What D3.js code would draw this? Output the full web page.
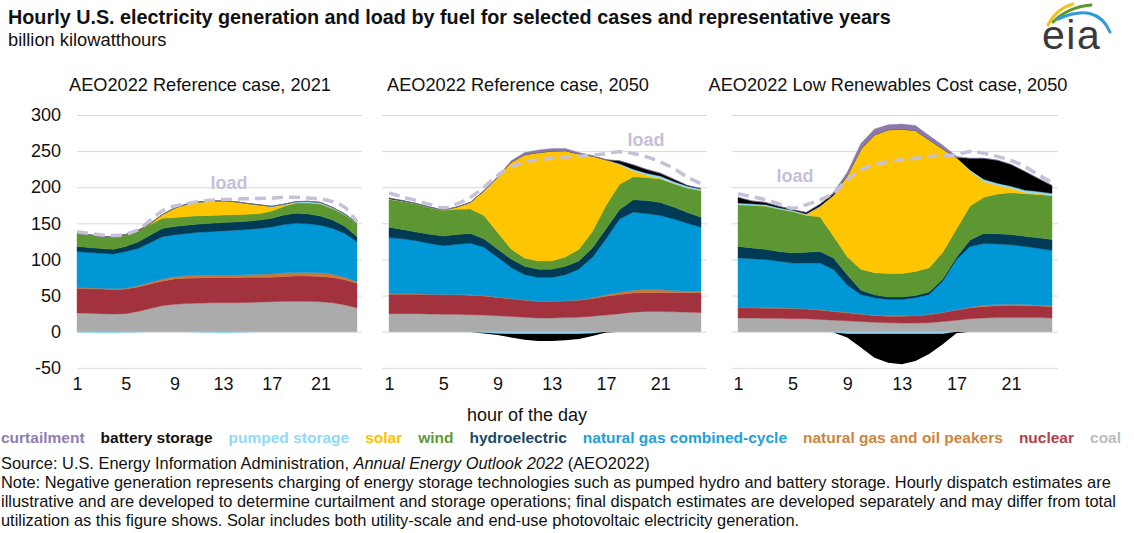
<!DOCTYPE html>
<html>
<head>
<meta charset="utf-8">
<title>Hourly U.S. electricity generation and load by fuel</title>
<script src="https://d3js.org/d3.v7.min.js"></script>
<style>
  body { margin: 0; background: #fff; }
  svg text { font-family: "Liberation Sans", Arial, sans-serif; }
</style>
</head>
<body>
<script>
// ---- data (billion kWh, hours 1..24), one row per panel ----
const hours = d3.range(1, 25);
const xTicks = [1, 5, 9, 13, 17, 21];
const yTicks = [-50, 0, 50, 100, 150, 200, 250, 300];
const panelTitles = ["AEO2022 Reference case, 2021", "AEO2022 Reference case, 2050", "AEO2022 Low Renewables Cost case, 2050"];

const coal = [
  [26,25.5,25,24.5,25,28,32,36,38,39,39.5,40,40,40,40.5,41,41.5,42,42,42,41.5,40,37,33],
  [25,25,25,24.5,24,24,23.5,23,22,21,20,19,19,19.5,20,21.5,23,25,27,28,28,27.5,27,26.5],
  [19,19,18.5,18.5,18,18,17,16,15,14,13,12.5,12,12,12.5,14,16,18,19,19.5,19.5,19.5,19.5,19]
];
const nuclear = [
  [34,34,34,34,34,34,34,34,35,35,35,35,35,35,35,34.5,34,34.5,35,35,35,35,35,34],
  [27,27,27,27,27,27,27,26.5,25.5,24.5,23.5,23,23,23,23.5,24.5,26,26.5,26.5,26,26,26.5,27,27.5],
  [14,14,14,14,14,13.5,13,12,11.3,10,9.5,9,9.5,10,11,12.5,14,15,16,16.5,17,16.5,16,15.5]
];
const peakers = [
  [1,1,1,1,1,1.5,2,3,3,3.5,3.5,3.5,3.5,3.5,3.5,4,4.5,5,5,5,5,4.5,3.5,2],
  [0.5,0.5,0.5,0.5,0.5,0.5,0.5,0.5,0.5,0.5,0.5,0.5,0.5,0.5,0.5,1,2,3,4,4.5,4,3,2,1.5],
  [0.5,0.5,0.5,0.5,0.5,0.5,0.5,0.5,0.5,0.5,0.5,0.5,0.5,0.5,0.5,0.5,0.5,1,1.5,1.5,1.5,1.5,1,1]
];
const combinedCycle = [
  [50,49,48.5,48,51,51.5,55,58.5,58,58.5,59.5,60,61,62,62.5,63.5,65,67,68,67.5,66,63.5,60.5,55.5],
  [78,76,73.5,70,67.5,69.5,71.5,67,55,43,35,32.5,32.5,36,42.5,56,77.5,101.5,108,105,103,99,94,89],
  [68.5,67.5,67,64.5,62.5,63,64.5,57.5,38,27,24,22.5,22.5,24.5,27.5,43,69.5,84,85.5,84,82.5,80.5,79,77]
];
const hydro = [
  [7,7,6.5,6.5,7,9,10.5,11.5,11.5,11.5,11.5,11.5,11.5,11.5,11.5,11.5,12,13,14,13.5,12.5,11.5,10,7],
  [14,13,12,13,13.5,13.5,13.5,11.5,11.5,11.5,11.5,11.5,11.5,11.5,11.5,13,14,13,17,18,18,16.5,15,14],
  [16,15,14,13.5,14,15,16,16,14,6,4,3.5,3.5,3,3.5,3,3,9,14,14,14,14,14.5,15]
];
const wind = [
  [18,17.5,17,17,16.5,16,15,14,12.5,12,11.5,11,10.5,10,9.5,9,10,12,14,15.5,17,16,16,18.5],
  [39,39,39,37,35.5,35,34,32.5,23,14,11.5,11.5,11.5,13,16,23,32.5,35,32,32,32.5,32.5,34,37],
  [58,59,60,59,57.5,51,48,30,25,29,30.5,32.5,32.5,33.5,33.5,37,39,47,50,55,58,59,60,61]
];
const solar = [
  [0,0,0,0,0,0,1,5,13,17,19,20,19.5,18,15,12,6,2,0.5,0,0,0,0,0],
  [0,0,0,0,0,3,9,34,76,120,143,150,152,147,132,104,63,27,8,3,1,0,0,0],
  [0,0,0,0,0,1,14,57,112,166,191,199,200,195,177,143,99,48,22,12,6,2,1,0]
];
const pumpedStorage = [
  [-1,-1.5,-2,-2,-1.5,-1,0,0,0,-0.5,-1,-1.5,-2,-1.5,-1,0,0.5,1,1.5,2,2,1.5,1,0.5],
  [0.5,0.5,0.5,0.5,0.5,0,-0.5,-1.5,-2.5,-3,-3,-3,-3,-3,-3,-2,0,1.5,2.5,3,3,3,2.5,2],
  [2,2,2,1.5,1.5,1,0.5,-1,-3,-3,-3,-3,-3,-3,-3,-3,0,2,3,3,3,3,3,3]
];
const batteryStorage = [
  [0,0,0,0,0,0,0,0,0,0,0,0,0,0,0,0,0,0,0,0,0,0,0,0],
  [1,0.5,0,0,0,0,0,-1,-2,-5,-8,-10,-10,-9,-7,-4,-1,4,6,5,4,3,1,0.5],
  [8,4,3,2,1,2,3,2,-5,-19,-33,-40,-42,-37.5,-28,-14.5,-2,16,29,32,30,26,18,11]
];
const curtailment = [
  [0,0,0,0,0,0,0,0,0,0,0,0,0,0,0,0,0,0,0,0,0,0,0,0],
  [0,0,0,0,0,0,0,0,1,2,3,3.5,3.5,3,2,1,0,0,0,0,0,0,0,0],
  [0,0,0,0,0,0,0,2,5,8,8,7,7,7,6,5,2,0,0,0,0,0,0,0]
];
const load = [
  [138.5,136,134,133,135,141,154,167,174,177,180,182,183,183.5,184,184.5,185,186,186,185,183.5,180,172,152],
  [192,186.5,181.7,176,171.5,177,186,200,216.5,228,235,238,240.6,242,243,244,246.6,249,246.6,242,235,225.8,214,205],
  [191,187,182.7,177,171,175.8,182.7,192,210,224,231,235.6,238,240,242.5,243.4,244.8,249.4,247,242.5,237,228.7,217,206.6]
];

// legend (bottom to top of the stack)
const fuelNames = ["coal", "nuclear", "natural gas and oil peakers", "natural gas combined-cycle", "hydroelectric",
  "wind", "solar", "pumped storage", "battery storage", "curtailment"];
const fuelColors = ["#ababab", "#a3323f", "#c8783a", "#0097d7", "#003a55", "#5d9732", "#ffc600", "#8ed8f8", "#000000", "#8c78aa"];
const legendColors = ["#bdbdbd", "#b3404c", "#cc8540", "#22a0dc", "#1a4864", "#5f9a36", "#ffc000", "#91d9f8", "#111111", "#8f7db0"];

// ---- layout ----
const W = 1134, H = 533;
const svg = d3.select("body").append("svg").attr("width", W).attr("height", H);

const y = d3.scaleLinear().domain([-50, 300]).range([367.8, 115]);

const panels = [
  { gridL: 77, gridR: 362, x0: 77, x1: 357, titleX: 200, loadX: 229, loadY: 189 },
  { gridL: 382, gridR: 707, x0: 389, x1: 701, titleX: 518, loadX: 646, loadY: 146 },
  { gridL: 732, gridR: 1058, x0: 738, x1: 1052, titleX: 888, loadX: 795, loadY: 182 }
];

// title
svg.append("text").attr("x", 8).attr("y", 24)
  .attr("font-size", 19.8).attr("font-weight", "bold").attr("fill", "#111")
  .text("Hourly U.S. electricity generation and load by fuel for selected cases and representative years");
svg.append("text").attr("x", 8).attr("y", 46)
  .attr("font-size", 18.3).attr("fill", "#111")
  .text("billion kilowatthours");

const posKeys = ["coal", "nuclear", "peakers", "cc", "hydro", "wind", "solar", "pumpedPos", "batteryPos", "curtail"];
const posColors = fuelColors;
const negKeys = ["pumpedNeg", "batteryNeg"];
const negColors = [fuelColors[7], fuelColors[8]];

panels.forEach((p, i) => {
  const x = d3.scaleLinear().domain([1, 24]).range([p.x0, p.x1]);
  const g = svg.append("g");

  // gridlines
  g.append("g")
    .attr("transform", `translate(${p.gridL},0)`)
    .call(d3.axisLeft(y).tickValues(yTicks).tickSize(-(p.gridR - p.gridL)).tickFormat(""))
    .call(a => a.select(".domain").remove())
    .call(a => a.selectAll("line").attr("stroke", "#d9d9d9").attr("stroke-width", 1));

  const rows = hours.map((h, j) => ({
    hour: h,
    coal: coal[i][j], nuclear: nuclear[i][j], peakers: peakers[i][j], cc: combinedCycle[i][j],
    hydro: hydro[i][j], wind: wind[i][j], solar: solar[i][j],
    pumpedPos: Math.max(0, pumpedStorage[i][j]), batteryPos: Math.max(0, batteryStorage[i][j]),
    curtail: curtailment[i][j],
    pumpedNeg: Math.min(0, pumpedStorage[i][j]), batteryNeg: Math.min(0, batteryStorage[i][j])
  }));

  const area = d3.area()
    .x(d => x(d.data.hour))
    .y0(d => y(d[0]))
    .y1(d => y(d[1]));

  const pos = d3.stack().keys(posKeys)(rows);
  const neg = d3.stack().keys(negKeys)(rows);

  g.selectAll("path.neg").data(neg).join("path")
    .attr("class", "neg")
    .attr("d", area)
    .attr("fill", (d, k) => negColors[k]);

  g.selectAll("path.pos").data(pos).join("path")
    .attr("class", "pos")
    .attr("d", area)
    .attr("fill", (d, k) => posColors[k])
    .attr("stroke", (d, k) => posColors[k])
    .attr("stroke-width", 0.4);

  // load line
  g.append("path")
    .datum(load[i])
    .attr("fill", "none")
    .attr("stroke", "#c6c0d8")
    .attr("stroke-width", 3.5)
    .attr("stroke-dasharray", "11,6")
    .attr("d", d3.line().curve(d3.curveMonotoneX).x((d, j) => x(hours[j])).y(d => y(d)));

  g.append("text")
    .attr("x", p.loadX).attr("y", p.loadY)
    .attr("text-anchor", "middle")
    .attr("font-size", 18).attr("font-weight", "bold").attr("fill", "#c6c0d8")
    .text("load");

  // x axis labels
  g.append("g")
    .attr("transform", "translate(0,368)")
    .call(d3.axisBottom(x).tickValues(xTicks).tickSize(0).tickPadding(9))
    .call(a => a.select(".domain").remove())
    .call(a => a.selectAll("text").attr("font-size", 18).attr("fill", "#111")
      .attr("font-family", "Liberation Sans, Arial, sans-serif"));

  // panel title
  g.append("text")
    .attr("x", p.titleX).attr("y", 91)
    .attr("text-anchor", "middle")
    .attr("font-size", 18.2).attr("fill", "#111")
    .text(panelTitles[i]);
});

// y axis labels (first panel only), plain hyphen for negatives
svg.append("g")
  .attr("transform", "translate(61,0)")
  .call(d3.axisLeft(y).tickValues(yTicks).tickSize(0).tickPadding(0).tickFormat(d => String(d)))
  .call(a => a.select(".domain").remove())
  .call(a => a.selectAll("text").attr("font-size", 18).attr("fill", "#111")
    .attr("font-family", "Liberation Sans, Arial, sans-serif"));

svg.append("text")
  .attr("x", 527).attr("y", 421)
  .attr("text-anchor", "middle")
  .attr("font-size", 18).attr("fill", "#111")
  .text("hour of the day");

// legend, top of stack first
const legend = svg.append("g").attr("font-size", 15.5).attr("font-weight", "bold");
let lx = 1;
d3.range(fuelNames.length - 1, -1, -1).forEach(k => {
  const t = legend.append("text")
    .attr("x", lx).attr("y", 443)
    .attr("fill", legendColors[k])
    .text(fuelNames[k]);
  lx += t.node().getComputedTextLength() + 16;
});

// footer
const foot = svg.append("g").attr("font-size", 16.4).attr("fill", "#111");
const src = foot.append("text").attr("x", 1).attr("y", 468.5);
src.append("tspan").text("Source: U.S. Energy Information Administration, ");
src.append("tspan").attr("font-style", "italic").text("Annual Energy Outlook 2022");
src.append("tspan").text(" (AEO2022)");
foot.append("text").attr("x", 1).attr("y", 487.5)
  .text("Note: Negative generation represents charging of energy storage technologies such as pumped hydro and battery storage. Hourly dispatch estimates are");
foot.append("text").attr("x", 1).attr("y", 506.5)
  .text("illustrative and are developed to determine curtailment and storage operations; final dispatch estimates are developed separately and may differ from total");
foot.append("text").attr("x", 1).attr("y", 525.5)
  .text("utilization as this figure shows. Solar includes both utility-scale and end-use photovoltaic electricity generation.");

// eia logo
const logo = svg.append("g");
logo.append("path").attr("d", "M1048,25 Q1056,9 1073,4")
  .attr("fill", "none").attr("stroke", "#f2c21b").attr("stroke-width", 3).attr("stroke-linecap", "round");
logo.append("path").attr("d", "M1053,22 Q1068,7 1091,5")
  .attr("fill", "none").attr("stroke", "#5d9732").attr("stroke-width", 3).attr("stroke-linecap", "round");
logo.append("path").attr("d", "M1058,19 Q1097,2 1110,32")
  .attr("fill", "none").attr("stroke", "#2e9ad8").attr("stroke-width", 3).attr("stroke-linecap", "round");
logo.append("text").attr("x", 1042).attr("y", 49)
  .attr("font-family", "Liberation Serif, Times New Roman, serif")
  .attr("font-size", 41).attr("letter-spacing", 1.5).attr("fill", "#3a3a3a")
  .text("eia");
</script>
</body>
</html>
